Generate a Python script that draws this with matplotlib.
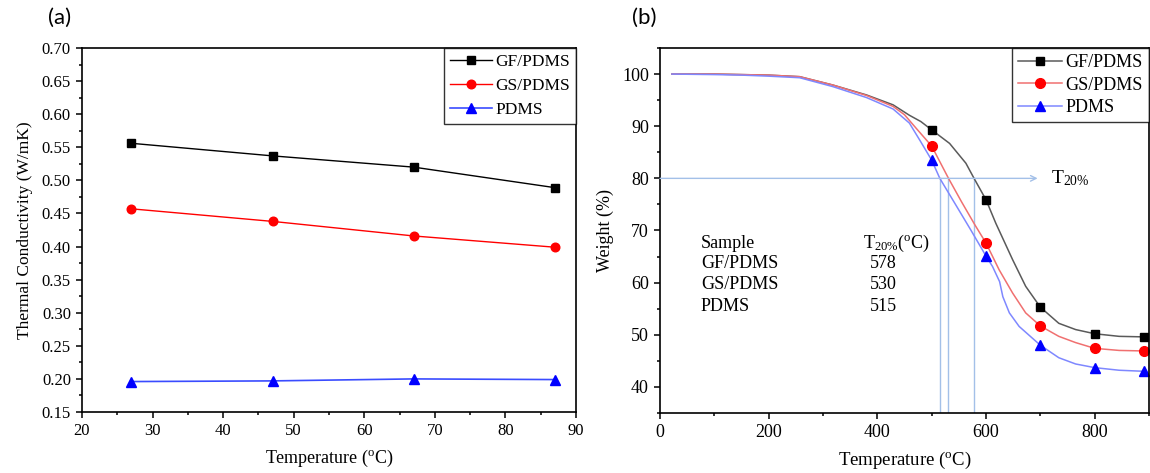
import matplotlib.pyplot as plt
from matplotlib.ticker import MultipleLocator
import numpy as np

plt.rcParams['font.family'] = 'Liberation Serif'
plt.rcParams['mathtext.fontset'] = 'custom'
plt.rcParams['mathtext.rm'] = 'Liberation Serif'
plt.rcParams['mathtext.it'] = 'Liberation Serif:italic'

# (a) thermal conductivity vs temperature
tc_temp = [27, 47, 67, 87]
tc_gf = [0.556, 0.537, 0.520, 0.489]
tc_gs = [0.457, 0.438, 0.416, 0.399]
tc_pdms = [0.196, 0.197, 0.200, 0.199]

# (b) TGA curves
gf_temp = [22, 100, 150, 200, 257, 318, 380, 429, 459, 480, 500, 533, 563, 578, 600,
           618, 649, 673, 700, 734, 765, 800, 845, 890]
gf_wt = [100, 100, 99.9, 99.8, 99.5, 97.9, 96.0, 94.1, 92.1, 90.9, 89.3, 86.7, 82.9, 80.0, 75.9,
         71.4, 64.4, 59.3, 55.3, 52.2, 51.0, 50.2, 49.7, 49.6]
gs_temp = [22, 100, 150, 200, 257, 318, 380, 429, 450, 474, 500, 531, 555, 580, 600,
           624, 649, 673, 700, 734, 765, 800, 845, 890]
gs_wt = [100, 100, 99.9, 99.8, 99.5, 97.9, 95.9, 93.8, 92.2, 89.3, 86.2, 80.0, 75.5, 71.0, 67.6,
         62.5, 58.0, 54.2, 51.7, 49.7, 48.5, 47.4, 47.0, 46.9]
pdms_temp = [22, 100, 150, 200, 257, 318, 380, 429, 459, 480, 500, 515, 545, 572, 600,
             612, 625, 631, 643, 661, 700, 734, 765, 800, 845, 890]
pdms_wt = [100, 99.9, 99.8, 99.6, 99.3, 97.6, 95.5, 93.3, 90.6, 87.0, 83.5, 80.0, 74.8, 70.1, 65.1,
           63.1, 60.2, 57.3, 54.2, 51.6, 48.0, 45.6, 44.4, 43.7, 43.2, 43.0]
mark_temps = [500, 600, 700, 800, 890]

samples = ['GF/PDMS', 'GS/PDMS', 'PDMS']
t20 = [578, 530, 515]

fig = plt.figure(figsize=(11.5, 4.73), dpi=100)
W, H = 1150, 473

def px_axes(l, t, r, b):
    return fig.add_axes([l / W, 1 - b / H, (r - l) / W, (b - t) / H])

def style(ax, fs):
    for s in ax.spines.values():
        s.set_linewidth(1.2)
    ax.tick_params(which='both', direction='out', top=False, right=False, labelsize=fs, width=1.1)
    ax.tick_params(which='major', length=4.5)
    ax.tick_params(which='minor', length=2.5)

# panel (a)
ax1 = px_axes(82, 48, 576, 412)
ax1.plot(tc_temp, tc_gf, '-s', color='black', lw=1, ms=5.5, label='GF/PDMS')
ax1.plot(tc_temp, tc_gs, '-o', color='red', lw=1, ms=6.2, label='GS/PDMS')
ax1.plot(tc_temp, tc_pdms, '-^', color='#3a4cff', mfc='blue', mec='blue', lw=1.2, ms=6.5, label='PDMS')
ax1.set_xlim(20, 90)
ax1.set_ylim(0.15, 0.70)
ax1.xaxis.set_major_locator(MultipleLocator(10))
ax1.xaxis.set_minor_locator(MultipleLocator(5))
ax1.yaxis.set_major_locator(MultipleLocator(0.05))
ax1.yaxis.set_minor_locator(MultipleLocator(0.025))
ax1.yaxis.set_major_formatter(plt.FormatStrFormatter('%.2f'))
style(ax1, 12)
ax1.set_xlabel(r'Temperature ($^{\mathrm{o}}$C)', fontsize=13, labelpad=6)
ax1.set_ylabel('Thermal Conductivity (W/mK)', fontsize=12.5, labelpad=6)
leg1 = ax1.legend(loc='upper right', bbox_to_anchor=(1, 1), borderaxespad=0, fontsize=12.5,
                  frameon=True, fancybox=False, edgecolor='black', handlelength=2.4,
                  handletextpad=0.2, labelspacing=0.45, borderpad=0.35)
leg1.get_frame().set_linewidth(1.0)

# panel (b)
ax2 = px_axes(660, 48, 1149, 413)
ax2.set_xlim(0, 900)
ax2.set_ylim(35, 105)

line_c = '#a3c0e8'
ax2.annotate('', xy=(695, 80), xytext=(0, 80),
             arrowprops=dict(arrowstyle='->', color=line_c, lw=1, shrinkA=0, shrinkB=0))
for t in t20:
    ax2.plot([t, t], [35, 80], color=line_c, lw=1)
ax2.text(719, 80, r'T$_{\mathrm{20\%}}$', fontsize=14, va='center', ha='left')

series = [(gf_temp, gf_wt, 's', '#5a5a5a', 'black', 6, 'GF/PDMS'),
          (gs_temp, gs_wt, 'o', '#f07070', 'red', 7, 'GS/PDMS'),
          (pdms_temp, pdms_wt, '^', '#7f88ff', 'blue', 7, 'PDMS')]
for tt, ww, mk, lc, mc, ms, lab in series:
    idx = [tt.index(m) for m in mark_temps]
    ax2.plot(tt, ww, '-', marker=mk, color=lc, mfc=mc, mec=mc, lw=1.1, ms=ms,
             markevery=idx, label=lab)

ax2.xaxis.set_major_locator(MultipleLocator(200))
ax2.xaxis.set_minor_locator(MultipleLocator(100))
ax2.yaxis.set_minor_locator(MultipleLocator(5))
ax2.set_yticks([40, 50, 60, 70, 80, 90, 100])
style(ax2, 13)
ax2.set_xlabel(r'Temperature ($^{\mathrm{o}}$C)', fontsize=13.5, labelpad=6)
ax2.set_ylabel('Weight (%)', fontsize=13, labelpad=6)
leg2 = ax2.legend(loc='upper right', bbox_to_anchor=(1, 1), borderaxespad=0, fontsize=13,
                  frameon=True, fancybox=False, edgecolor='black', handlelength=2.4,
                  handletextpad=0.2, labelspacing=0.3, borderpad=0.35)
leg2.get_frame().set_linewidth(1.0)

# T20% summary table
rows_y = [67.6, 63.7, 59.6, 55.4]
ax2.text(75, rows_y[0], 'Sample', fontsize=13, va='center')
ax2.text(373, rows_y[0], r'T$_{\mathrm{20\%}}$($^{\mathrm{o}}$C)', fontsize=13, va='center')
for y, s, t in zip(rows_y[1:], samples, t20):
    ax2.text(75, y, s, fontsize=13, va='center')
    ax2.text(386, y, str(t), fontsize=13, va='center')

fig.text(60 / W, 1 - 18 / H, '(a)', fontsize=16, family='Lato', ha='center', va='center')
fig.text(644 / W, 1 - 18 / H, '(b)', fontsize=16, family='Lato', ha='center', va='center')

fig.savefig('out.png', dpi=100)
